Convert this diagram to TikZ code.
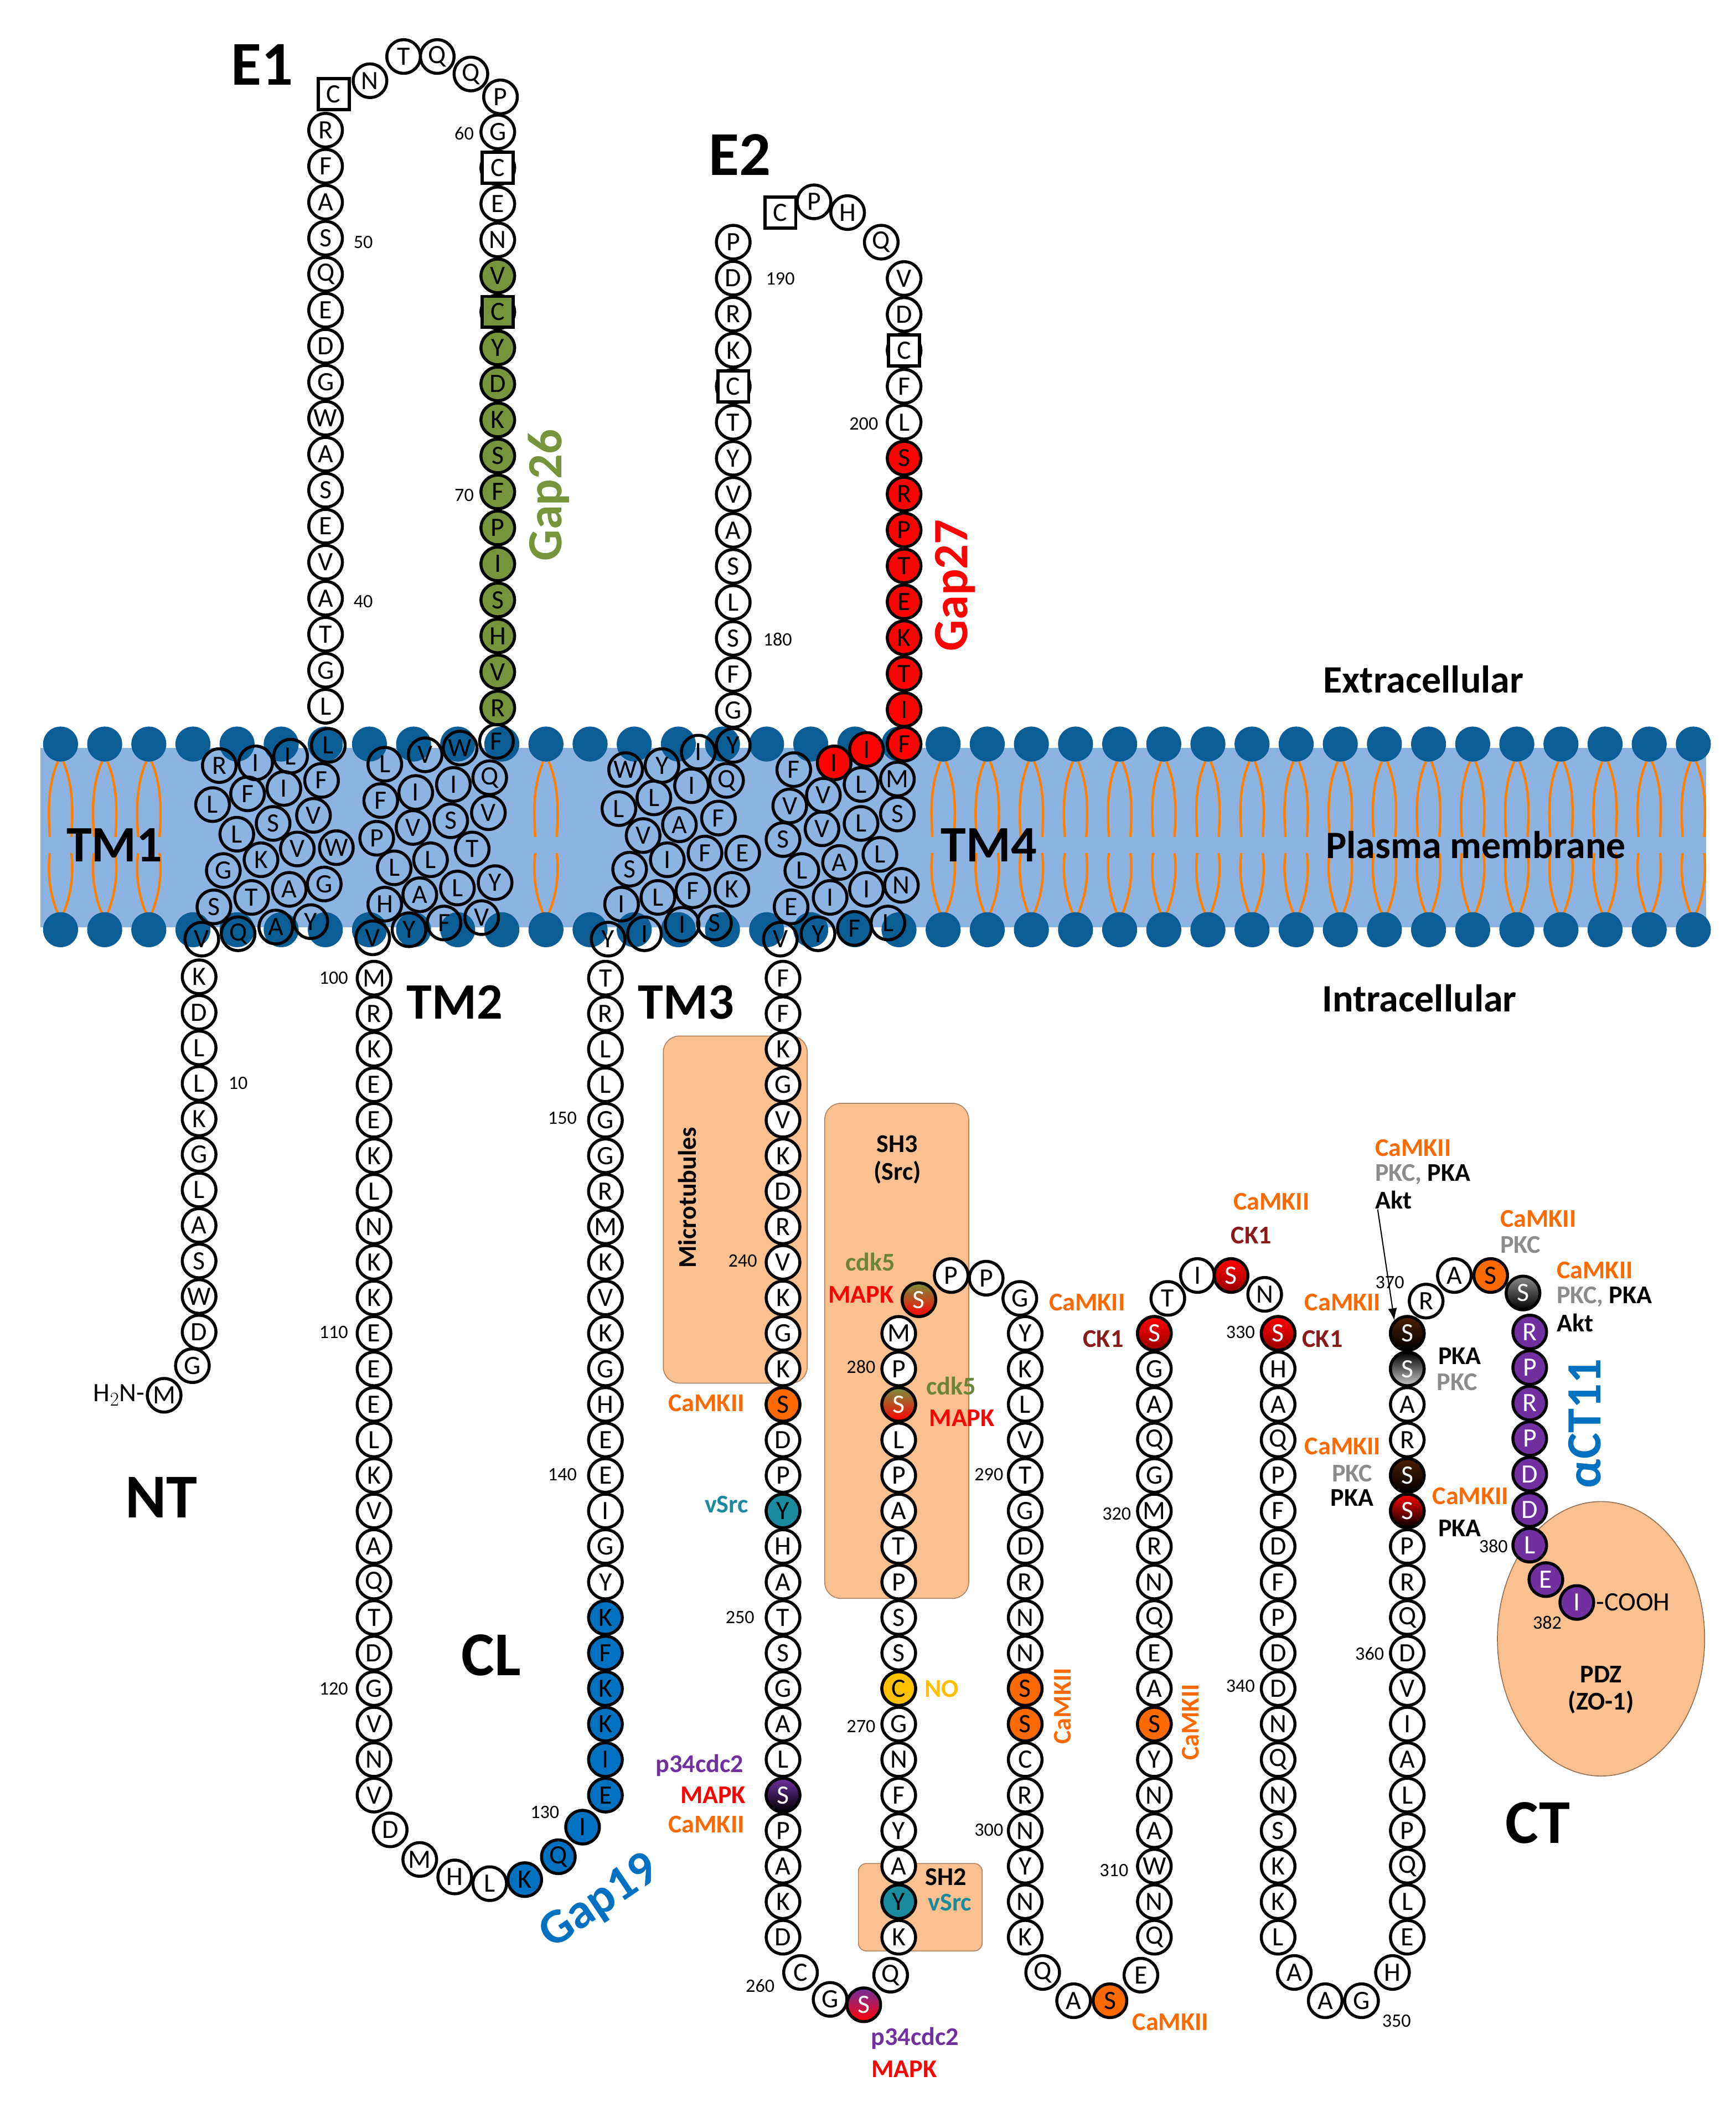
\documentclass[tikz,border=0pt]{standalone}
\usepackage{fontspec}
\setmainfont{Carlito}
\usetikzlibrary{arrows.meta}
\definecolor{memb}{HTML}{8DB3E2}
\definecolor{head}{HTML}{0B5E95}
\definecolor{tail}{HTML}{FF7F00}
\definecolor{boxc}{HTML}{FAC090}
\definecolor{gapg}{HTML}{77933C}
\definecolor{gapb}{HTML}{0070C0}
\definecolor{pur}{HTML}{7030A0}
\definecolor{teal}{HTML}{1A8A9E}
\definecolor{yel}{HTML}{FFC000}
\definecolor{camk}{HTML}{FF6A00}
\definecolor{ckred}{HTML}{8B1A1A}
\definecolor{pkc}{HTML}{8C8C8C}
\newcommand\resfont{\fontsize{28}{28}\selectfont}
\newcommand\numfont{\fontsize{20}{20}\selectfont}
\newcommand\labfont{\fontsize{27}{29}\selectfont\bfseries}
\newcommand\bigfont{\fontsize{66}{66}\selectfont\bfseries}
\newcommand\tmfont{\fontsize{54}{54}\selectfont\bfseries}
\newcommand\regfont{\fontsize{41}{41}\selectfont\bfseries}
\newcommand\gapfont{\fontsize{52}{52}\selectfont\bfseries}
\tikzset{
  res/.style={circle, draw, line width=3.2pt, fill=white, minimum size=1.25cm, inner sep=0pt, font=\resfont},
  mres/.style={res, fill=none},
  cbox/.style={rectangle, draw, line width=3.4pt, fill=white, minimum size=1.15cm, inner sep=0pt, font=\resfont},
  num/.style={font=\numfont, inner sep=0pt},
  lab/.style={font=\labfont, inner sep=0pt, align=center},
  site/.style={draw=boxc!70!black, line width=1pt, fill=boxc, rounded corners=0.6cm},
  gs/.style n args={3}{res, top color=#1, middle color=#2, bottom color=#3, text=white},
  cur/.style={},
}
\begin{document}
\begin{tikzpicture}[x=0.05cm,y=-0.05cm]
\useasboundingbox (0,0) rectangle (1290,1566);
%% membrane
\fill[memb] (30,556) rectangle (1268,689);
\foreach \i in {0,...,37} {
  \pgfmathsetmacro\hx{45+32.8*\i}
  \pgfmathtruncatemacro\tl{(\hx<140)||(\hx>395 && \hx<435)||(\hx>690)}
  \ifnum\tl=1
    \draw[tail, line width=2.6pt] (\hx-2,566) .. controls (\hx-10,585) and (\hx-9,605) .. (\hx-8,622);
    \draw[tail, line width=2.6pt] (\hx+2,566) .. controls (\hx+10,585) and (\hx+9,605) .. (\hx+8,622);
    \draw[tail, line width=2.6pt] (\hx-2,679) .. controls (\hx-10,660) and (\hx-9,642) .. (\hx-8,634);
    \draw[tail, line width=2.6pt] (\hx+2,679) .. controls (\hx+10,660) and (\hx+9,642) .. (\hx+8,634);
  \fi
  \fill[head] (\hx,553) circle (13);
  \fill[head] (\hx,691) circle (13);
}
%% binding regions
\draw[site] (493,770) rectangle (600,1028);
\draw[site] (613,820) rectangle (720,1188);
\draw[site, rounded corners=0.3cm] (638,1385) rectangle (730,1450);
\draw[boxc!60!black, line width=1pt, fill=boxc] (1190,1218) ellipse (77 and 102);
%% NT
\foreach \l [count=\i from 0] in {K,D,L,L,K,G,L,A,S,W,D}
  \node[res] (nt\i) at (148,{726+26.4*\i}) {\l};
\node[res] (ntg) at (143,1015) {G};
\node[res] (ntm) at (122,1037) {M};
%% E1
\node[cbox] (e1c) at (248,70) {C};
\foreach \l [count=\i from 1] in {R,F,A,S,Q,E,D,G,W,A,S,E,V,A,T,G,L}
  \node[res] (e1a\i) at (242,{70+26.76*\i}) {\l};
\node[res] (e1n) at (275,60) {N};
\node[res] (e1t) at (300,42) {T};
\node[res] (e1q) at (325,42) {Q};
\node[res] (e1q2) at (350,55) {Q};
\node[res] (e1p) at (372,72) {P};
\foreach \l [count=\i from 0] in {G,C,E,N,V,C,Y,D,K,S,F,P,I,S,H,V,R} {
  \ifnum\i>3 \tikzset{cur/.style={fill=gapg}}\fi
  \node[res,cur] (e1b\i) at (370,{98+26.76*\i}) {\l};
}
\node[cbox] at (e1b1) {C};
\node[cbox, fill=gapg] at (e1b5) {C};
%% E2
\foreach \l [count=\i from 0] in {P,D,R,K,C,T,Y,V,A,S,L,S,F,G}
  \node[res] (e2a\i) at (545,{180+26.77*\i}) {\l};
\node[cbox] at (e2a4) {C};
\node[cbox] (e2c) at (580,158) {C};
\node[res] (e2p) at (605,150) {P};
\node[res] (e2h) at (630,158) {H};
\node[res] (e2q) at (655,180) {Q};
\foreach \l [count=\i from 0] in {V,D,C,F,L,S,R,P,T,E,K,T,I} {
  \ifnum\i>4 \tikzset{cur/.style={fill=red}}\fi
  \node[res,cur] (e2b\i) at (672,{207+26.7*\i}) {\l};
}
\node[cbox] at (e2b2) {C};
%% transmembrane
\foreach \x/\y/\l [count=\i] in {163/569/R,190/567/I,216/562/L,244/554/L,158/598/L,184/590/F,211/586/I,239/580/F,176/620/L,203/612/S,233/606/V,166/647/G,194/639/K,221/631/V,250/630/W,159/674/S,187/667/T,215/661/A,241/657/G,177/694/Q,205/689/A,231/685/Y,150/698/V}
  \node[mres] (tma\i) at (\x,\y) {\l};
\foreach \x/\y/\l [count=\i] in {286/568/L,316/561/V,342/556/W,369/551/F,364/578/Q,337/583/I,309/589/I,283/595/F,363/604/V,335/610/S,307/615/V,280/623/P,351/631/T,320/639/L,293/645/L,368/656/Y,340/660/L,312/665/A,286/672/H,358/682/V,330/686/F,304/691/Y,277/697/V}
  \node[mres] (tmb\i) at (\x,\y) {\l};
\foreach \x/\y/\l [count=\i] in {465/572/W,492/569/Y,519/559/I,545/554/Y,540/580/Q,514/584/I,486/593/L,460/601/L,534/608/F,505/613/A,478/621/V,552/634/E,524/634/F,496/639/I,468/646/S,544/661/K,515/662/F,489/667/L,462/672/I,531/686/S,507/687/I,479/694/I,452/698/Y}
  \node[mres] (tmc\i) at (\x,\y) {\l};
\foreach \x/\y/\l [count=\i] in {590/572/F,667/579/M,640/583/L,612/591/V,587/599/V,667/605/S,640/612/L,611/616/V,582/624/S,654/635/L,624/641/A,596/647/L,670/658/N,644/661/I,617/667/I,588/674/E,660/686/L,635/690/F,608/694/Y,580/698/V}
  \node[mres] (tmd\i) at (\x,\y) {\l};
\foreach \x/\y/\l [count=\i] in {620/567/I,644/557/I,672/553/F}
  \node[res, fill=red] (tmr\i) at (\x,\y) {\l};
%% CL
\foreach \l [count=\i from 0] in {M,R,K,E,E,K,L,N,K,K,E,E,E,L,K,V,A,Q,T,D,G,V,N,V}
  \node[res] (cla\i) at (278,{727+26.4*\i}) {\l};
\node[res] (cld) at (290,1360) {D};
\node[res] (clm) at (312,1382) {M};
\node[res] (clh) at (338,1395) {H};
\node[res] (cll) at (364,1400) {L};
\node[res, fill=gapb] (clk) at (390,1397) {K};
\node[res, fill=gapb] (clq) at (415,1380) {Q};
\node[res, fill=gapb] (cli) at (433,1358) {I};
\foreach \l [count=\i from 0] in {T,R,L,L,G,G,R,M,K,V,K,G,H,E,E,I,G,Y,K,F,K,K,I,E} {
  \ifnum\i>17 \tikzset{cur/.style={fill=gapb}}\fi
  \node[res,cur] (clb\i) at (450,{727+26.4*\i}) {\l};
}
%% CT
\foreach \l [count=\i from 0] in {F,F,K,G,V,K,D,R,V,K,G,K,S,D,P,Y,H,A,T,S,G,A,L,S,P,A,K,D}
  \node[res] (cta\i) at (582,{727+26.4*\i}) {\l};
\node[res, fill=camk] at (cta12) {S};
\node[res, fill=teal] at (cta15) {Y};
\node[gs={pur}{red!70!black}{black}] at (cta23) {S};
\node[res] (ctc) at (595,1466) {C};
\node[res] (ctg) at (617,1486) {G};
\node[gs={pur}{pur!50!red}{red}] (cts) at (642,1490) {S};
\node[res] (ctq) at (662,1468) {Q};
\foreach \l [count=\i from 10] in {M,P,S,L,P,A,T,P,S,S,C,G,N,F,Y,A,Y,K}
  \node[res] (ctb\i) at (668,{727+26.4*\i}) {\l};
\node[gs={gapg}{red!80!black}{red}] at (ctb12) {S};
\node[res, fill=yel] at (ctb20) {C};
\node[res, fill=teal] at (ctb26) {Y};
\node[gs={gapg}{red!80!black}{red}] (cts2) at (683,966) {S};
\node[res] (ctp) at (707,948) {P};
\node[res] (ctp2) at (733,950) {P};
\node[res] (ctg2) at (758,965) {G};
\foreach \l [count=\i from 10] in {Y,K,L,V,T,G,D,R,N,N,S,S,C,R,N,Y,N,K}
  \node[res] (ctd\i) at (762,{727+26.4*\i}) {\l};
\node[res, fill=camk] at (ctd20) {S};
\node[res, fill=camk] at (ctd21) {S};
\node[res] (ctq2) at (775,1466) {Q};
\node[res] (cta2) at (798,1487) {A};
\node[res, fill=camk] (cts3) at (825,1487) {S};
\node[res] (cte) at (848,1468) {E};
\foreach \l [count=\i from 10] in {S,G,A,Q,G,M,R,N,Q,E,A,S,Y,N,A,W,N,Q}
  \node[res] (cte\i) at (858,{727+26.4*\i}) {\l};
\node[gs={red}{red}{red!60!black}] at (cte10) {S};
\node[res, fill=camk] at (cte21) {S};
\node[res] (ctt) at (868,965) {T};
\node[res] (cti) at (890,948) {I};
\node[gs={red}{red}{red!60!black}] (cts4) at (915,948) {S};
\node[res] (ctn) at (940,962) {N};
\foreach \l [count=\i from 10] in {S,H,A,Q,P,F,D,F,P,D,D,N,Q,N,S,K,K,L}
  \node[res] (ctf\i) at (950,{727+26.4*\i}) {\l};
\node[gs={red}{red}{red!60!black}] at (ctf10) {S};
\node[res] (cta3) at (962,1466) {A};
\node[res] (cta4) at (985,1487) {A};
\node[res] (ctg3) at (1012,1487) {G};
\node[res] (cth) at (1035,1466) {H};
\foreach \l [count=\i from 10] in {S,S,A,R,S,S,P,R,Q,D,V,I,A,L,P,Q,L,E}
  \node[res] (ctg\i) at (1046,{727+26.4*\i}) {\l};
\node[gs={black!70!camk}{camk}{black}] at (ctg10) {S};
\node[gs={black}{black!70}{pkc!50}] at (ctg11) {S};
\node[gs={black!70!camk}{camk}{black}] at (ctg14) {S};
\node[gs={red}{camk}{black}] at (ctg15) {S};
\node[res] (ctr) at (1060,967) {R};
\node[res] (cta5) at (1081,948) {A};
\node[res, fill=camk] (cts5) at (1108,948) {S};
\node[gs={pkc}{camk}{black}] (cts6) at (1132,961) {S};
\foreach \l [count=\i from 0] in {R,P,R,P,D,D,L}
  \node[res, fill=pur, text=white] (cth\i) at (1137,{990+26.4*\i}) {\l};
\node[res, fill=pur, text=white] (cte2) at (1149,1174) {E};
\node[res, fill=pur, text=white] (cti2) at (1172,1191) {I};
%% residue numbers
\foreach \x/\y/\t in {270/180/50,270/447/40,345/99/60,345/368/70,578/475/180,580/207/190,642/315/200,177/805/10,248/727/100,248/990/110,248/1255/120,405/1347/130,418/1096/140,418/831/150,552/937/240,550/1202/250,565/1476/260,640/1283/270,640/1016/280,735/1096/290,735/1360/300,828/1390/310,830/1125/320,922/990/330,922/1253/340,1038/1502/350,1018/1229/360,1033/953/370,1110/1149/380,1150/1206/382}
  \node[num] at (\x,\y) {\t};
%% region labels
\node[font=\bigfont] (le1) at (195,48) {E1};
\node[font=\bigfont] (le2) at (550,115) {E2};
\node[font=\bigfont] (lnt) at (120,1113) {NT};
\node[font=\bigfont] (lcl) at (365,1230) {CL};
\node[font=\bigfont] (lct) at (1143,1355) {CT};
\node[font=\tmfont] (ltm1) at (85,628) {TM1};
\node[font=\tmfont] (ltm2) at (338,745) {TM2};
\node[font=\tmfont] (ltm3) at (510,745) {TM3};
\node[font=\tmfont] (ltm4) at (735,628) {TM4};
\node[font=\regfont] (lext) at (1058,505) {Extracellular};
\node[font=\regfont] (lpm) at (1097,628) {Plasma membrane};
\node[font=\regfont] (lint) at (1055,742) {Intracellular};
\node[font=\gapfont, text=gapb, rotate=90] (act) at (1178,1058) {αCT11};
\node[font=\gapfont, text=gapg, rotate=90] (g26) at (408,368) {Gap26};
\node[font=\gapfont, text=red, rotate=90] (g27) at (710,435) {Gap27};
\node[font=\gapfont, text=gapb, rotate=34] (g19) at (446,1414) {Gap19};
\node[lab, rotate=90] (lmt) at (511,890) {Microtubules};
\node[lab] (lsh3) at (667,862) {SH3\\(Src)};
\node[lab] (lsh2) at (703,1395) {SH2};
\node[lab, text=teal] at (706,1414) {vSrc};
\node[lab] (lpdz) at (1190,1256) {PDZ\\(ZO-1)};
\node[font=\resfont, anchor=east, inner sep=1pt] at (ntm.west) {H$_2$N-};
\node[font=\resfont, anchor=west, inner sep=1pt] at (cti2.east) {-COOH};
%% kinase labels
\node[lab, text=gapg!90!black] at (647,938) {cdk5};
\node[lab, text=red] at (640,962) {MAPK};
\node[lab, text=gapg!90!black] at (707,1030) {cdk5};
\node[lab, text=red] at (715,1054) {MAPK};
\node[lab, text=camk] at (525,1043) {CaMKII};
\node[lab, text=teal] at (540,1118) {vSrc};
\node[lab, text=pur] at (520,1312) {p34cdc2};
\node[lab, text=red] at (530,1334) {MAPK};
\node[lab, text=camk] at (525,1356) {CaMKII};
\node[lab, text=yel] at (700,1255) {NO};
\node[lab, text=pur] at (680,1515) {p34cdc2};
\node[lab, text=red] at (672,1538) {MAPK};
\node[lab, text=camk] at (808,968) {CaMKII};
\node[lab, text=ckred] at (820,995) {CK1};
\node[lab, text=camk] at (945,893) {CaMKII};
\node[lab, text=ckred] at (930,918) {CK1};
\node[lab, text=camk] at (998,968) {CaMKII};
\node[lab, text=ckred] at (983,995) {CK1};
\node[lab, text=camk, rotate=90] at (790,1268) {CaMKII};
\node[lab, text=camk, rotate=90] at (885,1280) {CaMKII};
\node[lab, text=camk] at (870,1503) {CaMKII};
\node[lab, text=camk] at (998,1075) {CaMKII};
\node[lab, text=pkc] at (1005,1095) {PKC};
\node[lab] at (1005,1113) {PKA};
\node[lab, text=camk] at (1093,1112) {CaMKII};
\node[lab] at (1085,1136) {PKA};
\node[lab] at (1085,1008) {PKA};
\node[lab, text=pkc] at (1083,1027) {PKC};
\node[lab, text=camk, anchor=west] at (1022,853) {CaMKII};
\node[lab, anchor=west] at (1022,873) {\textcolor{pkc}{PKC,} PKA};
\node[lab, anchor=west] (akt1) at (1022,892) {Akt};
\node[lab, text=camk, anchor=west] at (1115,906) {CaMKII};
\node[lab, text=pkc, anchor=west] at (1115,925) {PKC};
\node[lab, text=camk, anchor=west] at (1157,944) {CaMKII};
\node[lab, anchor=west] at (1157,964) {\textcolor{pkc}{PKC,} PKA};
\node[lab, anchor=west] at (1157,983) {Akt};
\draw[line width=1.2pt, -{Latex[length=0.45cm]}] ([xshift=0.1cm]akt1.south west) -- (ctg10.north west);
\end{tikzpicture}
\end{document}
